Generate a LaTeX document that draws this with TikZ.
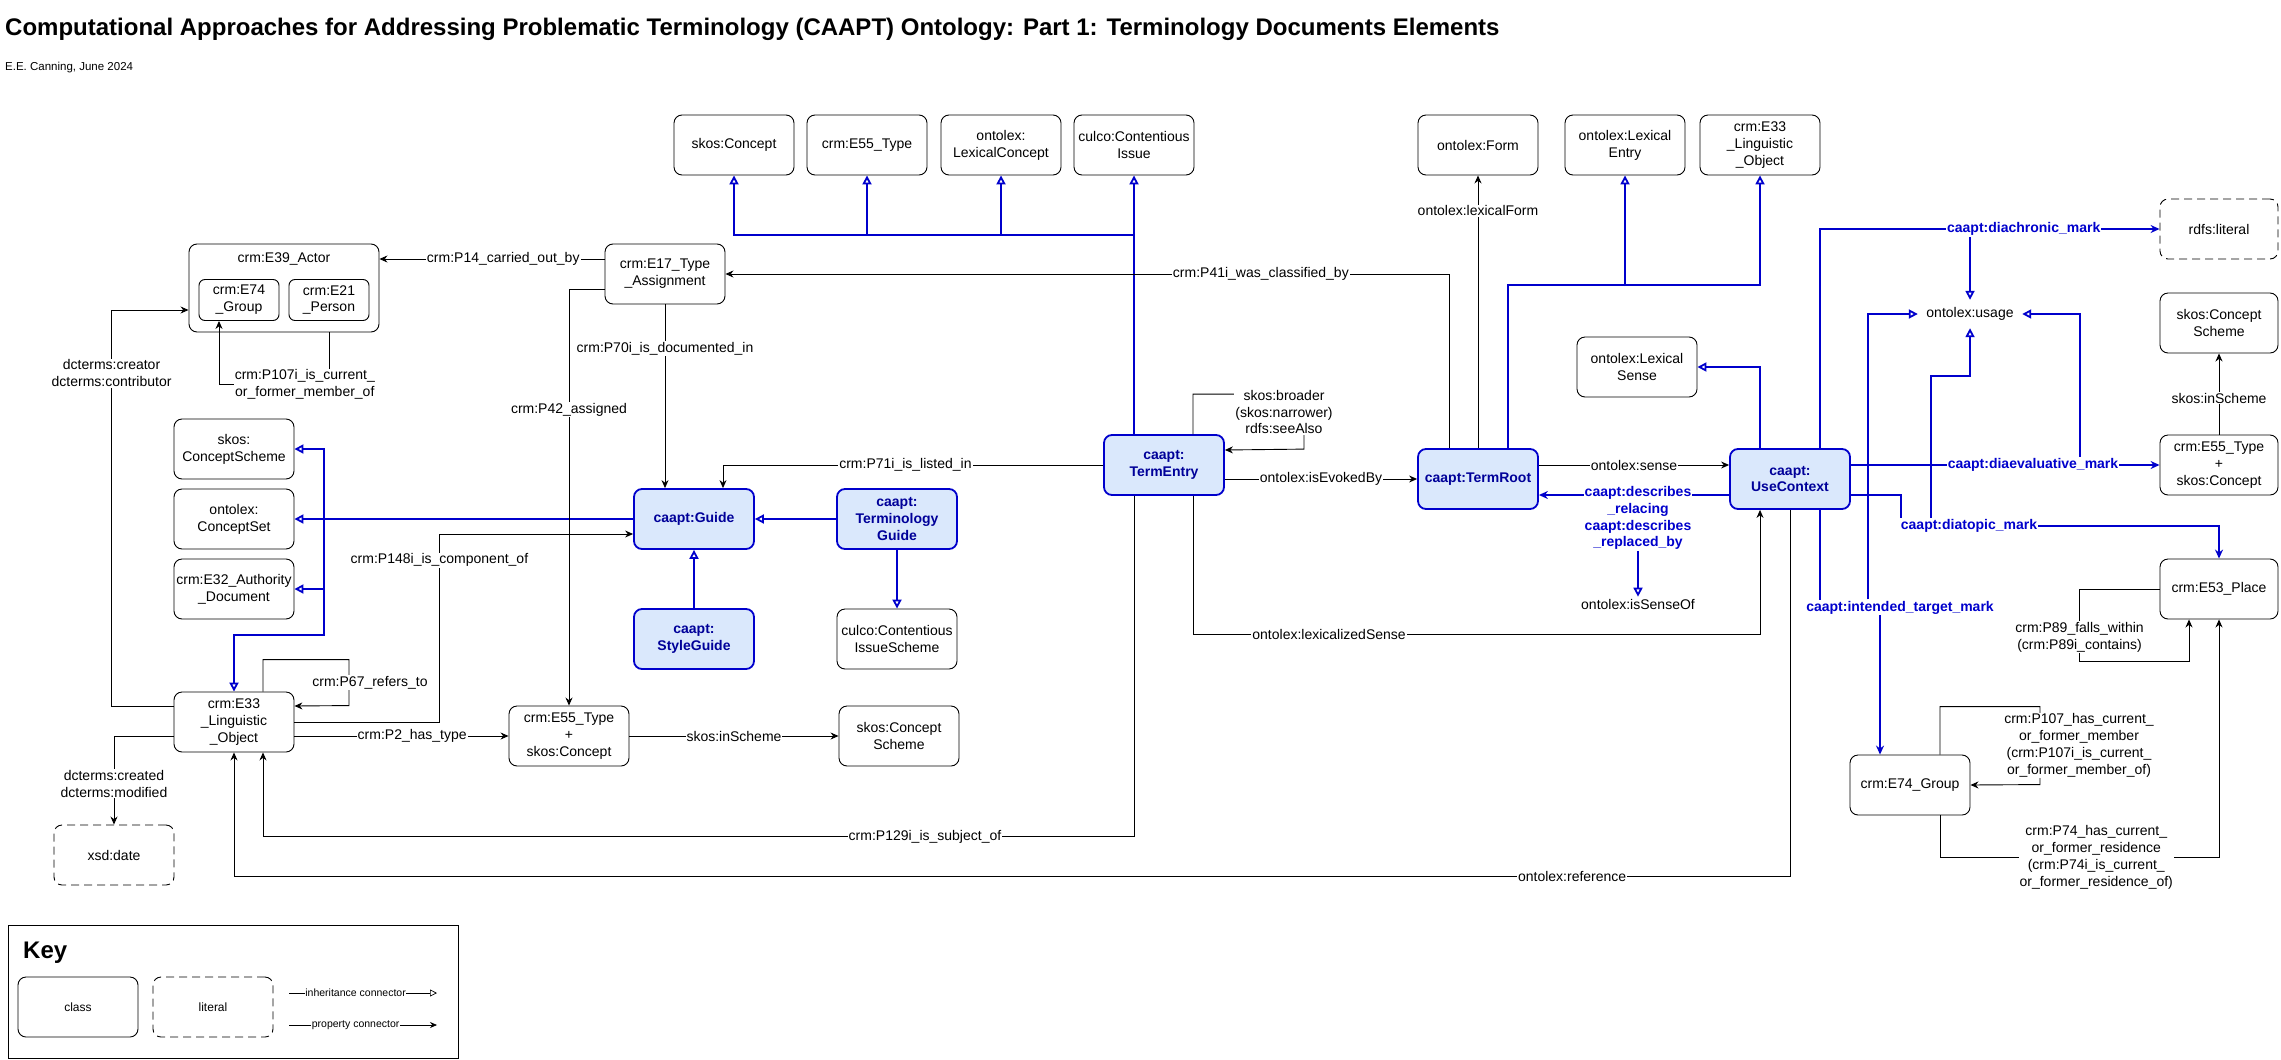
\documentclass[tikz,border=0pt]{standalone}
\usepackage{fontspec}
\setmainfont{Liberation Sans}
\usepackage{tikz}
\usetikzlibrary{arrows.meta,calc}

\definecolor{cblue}{HTML}{0000CC}
\definecolor{cnavy}{HTML}{000099}
\definecolor{cfill}{HTML}{DAE8FC}
\newcommand{\nodefont}{\fontsize{14}{16.8}\selectfont}

\tikzset{
  cls/.style={draw, rounded corners=8pt, minimum width=120pt, minimum height=60pt, align=center, line width=0.9pt, inner sep=1pt},
  caapt/.style={cls, draw=cblue, fill=cfill, line width=1.8pt, text=cnavy, font=\nodefont\bfseries},
  literal/.style={cls, dash pattern=on 8pt off 5pt},
  prop/.style={line width=0.9pt, -{Stealth[length=8pt,width=7pt]}},
  bprop/.style={draw=cblue, line width=1.8pt, -{Stealth[length=9pt,width=8pt]}},
  inh/.style={draw=cblue, line width=1.8pt, -{Triangle[open,length=9pt,width=9pt]}},
  lbl/.style={fill=white, inner sep=1pt, align=center},
  blbl/.style={lbl, text=cblue, font=\nodefont\bfseries},
}

\begin{document}
\begin{tikzpicture}[x=1pt, y=-1pt, font=\nodefont]
        \useasboundingbox (0,0) rectangle (2281,1060);

        % title
        \node[anchor=west, inner sep=0pt, font=\fontsize{24}{29}\selectfont\bfseries] (title) at (5,29) {Computational Approaches for Addressing Problematic Terminology (CAAPT) Ontology: Part 1: Terminology Documents Elements};
        \node[anchor=west, inner sep=0pt, font=\fontsize{11.5}{14}\selectfont] (author) at (5,68) {E.E. Canning, June 2024};

        % superclasses on top
        \node[cls] (skosc) at (734,145) {skos:Concept};
        \node[cls] (e55t) at (867,145) {crm:E55\_Type};
        \node[cls] (lexc) at (1001,145) {ontolex:\\LexicalConcept};
        \node[cls] (culci) at (1134,145) {culco:Contentious\\Issue};
        \node[cls] (form) at (1478,145) {ontolex:Form};
        \node[cls] (lexe) at (1625,145) {ontolex:Lexical\\Entry};
        \node[cls] (e33t) at (1760,145) {crm:E33\\\_Linguistic\\\_Object};

        % actor
        \node[cls, minimum width=190pt, minimum height=88pt] (actor) at (284,288) {};
        \node (actort) at (284,259) {crm:E39\_Actor};
        \node[cls, minimum width=80pt, minimum height=41pt, rounded corners=6pt] (igroup) at (239,300) {crm:E74\\\_Group};
        \node[cls, minimum width=80pt, minimum height=41pt, rounded corners=6pt] (iperson) at (329,300) {crm:E21\\\_Person};
        \node[cls] (e17) at (665,274) {crm:E17\_Type\\\_Assignment};

        % left column
        \node[cls] (schemel) at (234,449) {skos:\\ConceptScheme};
        \node[cls] (cset) at (234,519) {ontolex:\\ConceptSet};
        \node[cls] (e32) at (234,589) {crm:E32\_Authority\\\_Document};
        \node[cls] (ling) at (234,722) {crm:E33\\\_Linguistic\\\_Object};
        \node[literal] (xsd) at (114,855) {xsd:date};

        % guides
        \node[caapt] (guide) at (694,519) {caapt:Guide};
        \node[caapt] (tguide) at (897,519) {caapt:\\Terminology\\Guide};
        \node[caapt] (sguide) at (694,639) {caapt:\\StyleGuide};
        \node[cls] (cis) at (897,639) {culco:Contentious\\IssueScheme};
        \node[cls] (e55m) at (569,736) {crm:E55\_Type\\+\\skos:Concept};
        \node[cls] (schemem) at (899,736) {skos:Concept\\Scheme};

        % terms
        \node[caapt] (tentry) at (1164,465) {caapt:\\TermEntry};
        \node[caapt] (troot) at (1478,479) {caapt:TermRoot};
        \node[caapt] (usec) at (1790,479) {caapt:\\UseContext};
        \node[cls] (lsense) at (1637,367) {ontolex:Lexical\\Sense};
        \node[minimum width=104pt, minimum height=28pt, inner sep=0pt] (usage) at (1970,314) {ontolex:usage};
        \node[inner sep=2pt] (isenseof) at (1638,604) {ontolex:isSenseOf};

        % right column
        \node[literal, minimum width=118pt] (rdfs) at (2219,229) {rdfs:literal};
        \node[cls, minimum width=118pt] (schemer) at (2219,323) {skos:Concept\\Scheme};
        \node[cls, minimum width=118pt] (e55r) at (2219,465) {crm:E55\_Type\\+\\skos:Concept};
        \node[cls, minimum width=118pt] (place) at (2219,589) {crm:E53\_Place};
        \node[cls] (grp) at (1910,785) {crm:E74\_Group};

        % inheritance
        \coordinate (hub) at (1134,235);
        \draw[inh] ([xshift=-30pt]tentry.north) -- (culci.south);
        \draw[inh] (hub) -| (skosc.south);
        \draw[inh] (hub) -| (e55t.south);
        \draw[inh] (hub) -| (lexc.south);
        \coordinate (lhub) at (1625,286);
        \draw[inh] ([xshift=30pt]troot.north) -- ++(0,-163) -| (e33t.south);
        \draw[inh] (lhub) -- (lexe.south);
        \draw[inh] ([xshift=-30pt]usec.north) |- (lsense.east);
        \coordinate (ghub) at (324,519);
        \draw[inh] (guide.west) -- (cset.east);
        \draw[inh] (ghub) |- (schemel.east);
        \draw[inh] (ghub) |- (e32.east);
        \draw[inh] (ghub) -- ++(0,116) -| (ling.north);
        \draw[inh] (tguide.west) -- (guide.east);
        \draw[inh] (sguide.north) -- (guide.south);
        \draw[inh] (tguide.south) -- (cis.north);

        % properties
        \draw[prop] (e17.west |- actort) -- node[lbl, pos=.45] {crm:P14\_carried\_out\_by} (actor.east |- actort);
        \draw[prop] ([xshift=-29pt]troot.north) |- node[lbl, pos=.63] {crm:P41i\_was\_classified\_by} (e17.east);
        \draw[prop] (e17.south) -- node[lbl, pos=.24] {crm:P70i\_is\_documented\_in} (e17.south |- guide.north);
        \draw[prop] ([yshift=-15pt]e17.west) -| node[lbl, pos=.645] {crm:P42\_assigned} (e55m.north);
        \draw[prop] (tentry.west) -| node[lbl, pos=.26] {crm:P71i\_is\_listed\_in} ([xshift=29pt]guide.north);
        \draw[prop] (tentry.east |- troot.west) -- node[lbl] {ontolex:isEvokedBy} (troot.west);
        \draw[prop] ([xshift=29pt]tentry.north) -- ++(0,-40) -| ++(111,55) -- ([yshift=15pt]tentry.east);
        \node[lbl] (broader) at (1284,412) {skos:broader\\(skos:narrower)\\rdfs:seeAlso};
        \draw[prop] ([xshift=29pt]tentry.south) -- ++(0,139) -| node[lbl, pos=.12] {ontolex:lexicalizedSense} ([xshift=-30pt]usec.south);
        \draw[prop] ([xshift=-30pt]tentry.south) -- ++(0,341) -| node[lbl, pos=.12] {crm:P129i\_is\_subject\_of} ([xshift=29pt]ling.south);
        \draw[prop] (usec.south) -- ++(0,367) -| node[lbl, pos=.07] {ontolex:reference} (ling.south);
        \draw[prop] ([yshift=14pt]troot.east) -- node[lbl] {ontolex:sense} ([yshift=14pt]usec.west);
        \draw[prop] (troot.north) -- node[lbl, pos=.87] {ontolex:lexicalForm} (form.south);
        \draw[prop] ([yshift=16pt]ling.west) -- ++(-62,0) |- node[lbl, pos=.42] {dcterms:creator\\dcterms:contributor} ([yshift=-22pt]actor.west);
        \draw[prop] ([yshift=-14pt]ling.west) -| node[lbl, pos=.77] {dcterms:created\\dcterms:modified} (xsd.north);
        \draw[prop] (iperson.south |- actor.south) -- ++(0,52) -| node[lbl, pos=.11] {crm:P107i\_is\_current\_\\or\_former\_member\_of} ([xshift=-20pt]igroup.south);
        \draw[prop] ([yshift=-14pt]ling.east) -- node[lbl, pos=.55] {crm:P2\_has\_type} (e55m.west);
        \draw[prop] ([xshift=29pt]ling.north) -- ++(0,-32) -| node[lbl, pos=.75, xshift=21pt] {crm:P67\_refers\_to} ++(86,46) -- ([yshift=16pt]ling.east);
        \draw[prop] (ling.east) -- ++(145,0) |- node[lbl, pos=.43] {crm:P148i\_is\_component\_of} ([yshift=-15pt]guide.west);
        \draw[prop] (e55m.east) -- node[lbl] {skos:inScheme} (schemem.west);
        \draw[prop] (e55r.north) -- node[lbl, pos=.45] {skos:inScheme} (schemer.south);
        \draw[prop] (place.west) -- ++(-80,0) -- node[lbl, pos=.67] {crm:P89\_falls\_within\\(crm:P89i\_contains)} ++(0,72) -| ([xshift=-30pt]place.south);
        \draw[prop] ([xshift=30pt]grp.north) -- ++(0,-48) -| node[lbl, pos=.75, xshift=39pt] {crm:P107\_has\_current\_\\or\_former\_member\\(crm:P107i\_is\_current\_\\or\_former\_member\_of)} ++(100,78) -- (grp.east);
        \draw[prop] ([xshift=30pt]grp.south) -- ++(0,42) -| node[lbl, pos=.28] {crm:P74\_has\_current\_\\or\_former\_residence\\(crm:P74i\_is\_current\_\\or\_former\_residence\_of)} (place.south);

        % caapt marks
        \draw[bprop] ([xshift=30pt]usec.north) |- node[blbl, pos=.8] (dia1) {caapt:diachronic\_mark} (rdfs.west);
        \draw[bprop] ([yshift=14pt]usec.east) -- node[blbl, pos=.59] (dia2) {caapt:diaevaluative\_mark} (e55r.west);
        \draw[bprop] ([yshift=-16pt]usec.east) -- ++(50,0) -- ++(0,31) -| node[blbl, pos=.107] (dia3) {caapt:diatopic\_mark} (place.north);
        \draw[bprop] ([xshift=30pt]usec.south) -- ++(0,98) -| node[blbl, pos=.5, xshift=20pt] (dia4) {caapt:intended\_target\_mark} ([xshift=-30pt]grp.north);
        \draw[inh] (dia1.south -| usage.north) -- (usage.north);
        \draw[inh] ([xshift=47pt]dia2.north) |- (usage.east);
        \draw[inh] ([xshift=-38pt]dia3.north) |- ([yshift=-48pt]usage.south) -- (usage.south);
        \draw[inh] ([xshift=-32pt]dia4.north) |- (usage.west);
        \draw[bprop] ([yshift=-16pt]usec.west) -- ([yshift=-16pt]troot.east);
        \node[blbl] (desc) at (1638,518) {caapt:describes\\\_relacing\\caapt:describes\\\_replaced\_by};
        \draw[inh] (desc.south) -- (isenseof.north);

        % key
        \node[draw, line width=0.9pt, minimum width=450pt, minimum height=133pt] (keybox) at (233,991.5) {};
        \node[anchor=west, inner sep=0pt, font=\fontsize{24}{29}\selectfont\bfseries] (keyt) at (23,953) {Key};
        \node[cls, font=\fontsize{12}{14}\selectfont] (kcls) at (78,1007) {class};
        \node[literal, font=\fontsize{12}{14}\selectfont] (klit) at (213,1007) {literal};
        \coordinate (kia) at (289,993);
        \coordinate (kib) at (437,993);
        \coordinate (kpa) at (289,1025);
        \coordinate (kpb) at (437,1025);
        \draw[line width=0.7pt, -{Triangle[open,length=7pt,width=7pt]}] (kia) -- node[lbl, pos=.45, inner sep=0.5pt, font=\fontsize{10.5}{12}\selectfont] {inheritance connector} (kib);
        \draw[line width=0.7pt, -{Stealth[length=7pt,width=6pt]}] (kpa) -- node[lbl, pos=.45, inner sep=0.5pt, font=\fontsize{10.5}{12}\selectfont] {property connector} (kpb);
    \end{tikzpicture}
\end{document}
